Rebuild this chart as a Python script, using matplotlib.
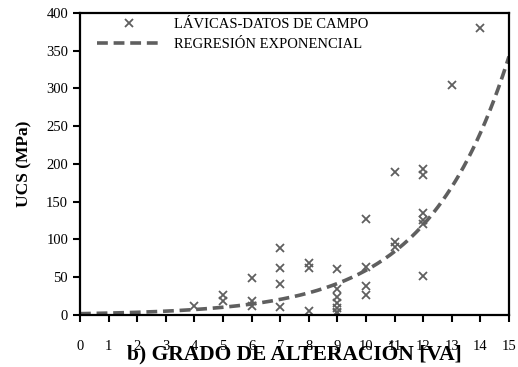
import numpy as np
import matplotlib.pyplot as plt

plt.rcParams['font.family'] = ['Liberation Serif', 'DejaVu Serif']

# datos de campo: grado de alteracion vs UCS
va = [4, 5, 5, 6, 6, 6, 7, 7, 7, 7, 8, 8, 8,
      9, 9, 9, 9, 9, 9, 9, 10, 10, 10, 10, 11, 11, 11,
      12, 12, 12, 12, 12, 12, 13, 14]
ucs = [12, 26, 19, 49, 18, 12, 89, 62, 41, 11, 69, 62, 5,
       61, 34, 24, 16, 9, 4, 2, 127, 64, 38, 26, 189, 97, 90,
       193, 185, 135, 126, 120, 51, 305, 380]

# regresion exponencial UCS = a*exp(b*VA)
a = 1.77
b = 0.351
xr = np.linspace(0, 15, 200)
yr = a * np.exp(b * xr)

fig = plt.figure(figsize=(5.18, 3.67), dpi=100)
ax = fig.add_axes([0.1544, 0.1417, 0.8282, 0.8229])

gray = '#5f5f5f'
ax.plot(va, ucs, 'x', color=gray, ms=6, mew=1.3, label='LÁVICAS-DATOS DE CAMPO')
ax.plot(xr, yr, '--', color=gray, lw=2.6, dashes=(3, 1.6), label='REGRESIÓN EXPONENCIAL')

ax.set_xlim(0, 15)
ax.set_ylim(0, 400)
ax.set_xticks(range(0, 16))
ax.set_yticks(range(0, 401, 50))
ax.tick_params(axis='both', labelsize=10.5, width=1.5, length=5)
ax.tick_params(axis='x', pad=13)
for s in ax.spines.values():
    s.set_linewidth(1.6)

ax.set_xlabel('b) GRADO DE ALTERACIÓN [VA]', fontsize=15.5, fontweight='bold', va='center')
ax.xaxis.set_label_coords(0.5, -0.13)
ax.set_ylabel('UCS (MPa)', fontsize=12.5, fontweight='bold', va='center')
ax.yaxis.set_label_coords(-0.13, 0.5)

ax.legend(loc='upper left', frameon=False, fontsize=10.5, handlelength=4.4,
          handletextpad=0.9, borderaxespad=0.0, labelspacing=0.45,
          bbox_to_anchor=(0.025, 1.003))

plt.savefig('out.png', dpi=100)
plt.close()
